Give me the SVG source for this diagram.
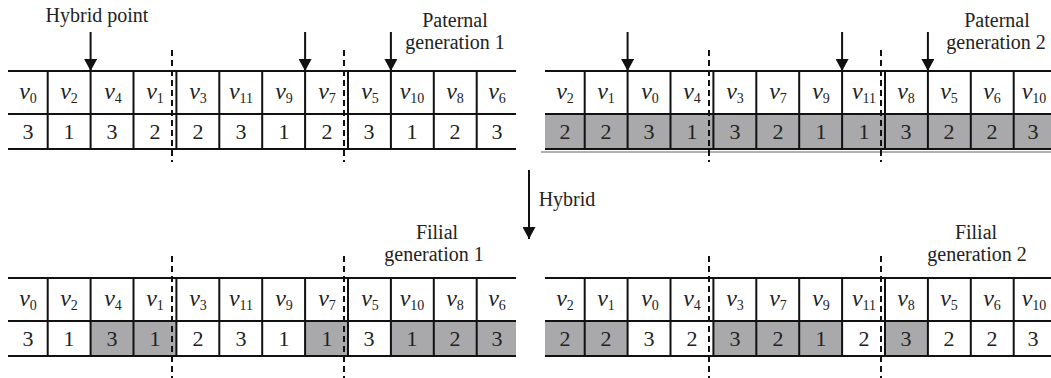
<svg xmlns="http://www.w3.org/2000/svg" width="1051" height="378" viewBox="0 0 1051 378">
<style>
.ln{stroke:#111;stroke-width:2;fill:none}
.ds{stroke:#111;stroke-width:2;stroke-dasharray:6 4;fill:none}
.g{fill:#a9a9ab}
.v{font-family:"Liberation Serif",serif;font-style:italic;font-size:24px;fill:#222;text-anchor:middle}
.s{font-style:normal;font-size:14px}
.d{font-family:"Liberation Serif",serif;font-size:22px;fill:#222;text-anchor:middle}
.t{font-family:"Liberation Serif",serif;font-size:20px;fill:#222;text-anchor:middle}
.ar{stroke:#111;stroke-width:2;fill:none;marker-end:url(#ah)}
</style>
<defs>
<marker id="ah" markerUnits="userSpaceOnUse" markerWidth="13" markerHeight="13" refX="12" refY="6.5" orient="auto">
<path d="M0,0 L12,6.5 L0,13 Z" fill="#111"/>
</marker>
</defs>
<rect width="1051" height="378" fill="#fff"/>

<!-- Top-left table: Paternal generation 1 -->
<g id="paternal1">
<path class="ln" d="M8,71H516M8,114H516M8,149H516"/>
<path class="ln" d="M47.7,71V149M90.6,71V149M133.5,71V149M176.4,71V149M219.3,71V149M262.2,71V149M305.1,71V149M348,71V149M390.9,71V149M433.8,71V149M476.7,71V149"/>
<text class="v" x="28" y="99">v<tspan class="s" dy="4">0</tspan></text>
<text class="v" x="69" y="99">v<tspan class="s" dy="4">2</tspan></text>
<text class="v" x="113" y="99">v<tspan class="s" dy="4">4</tspan></text>
<text class="v" x="155" y="99">v<tspan class="s" dy="4">1</tspan></text>
<text class="v" x="198" y="99">v<tspan class="s" dy="4">3</tspan></text>
<text class="v" x="241" y="99">v<tspan class="s" dy="4">11</tspan></text>
<text class="v" x="284" y="99">v<tspan class="s" dy="4">9</tspan></text>
<text class="v" x="327" y="99">v<tspan class="s" dy="4">7</tspan></text>
<text class="v" x="370" y="99">v<tspan class="s" dy="4">5</tspan></text>
<text class="v" x="412" y="99">v<tspan class="s" dy="4">10</tspan></text>
<text class="v" x="455" y="99">v<tspan class="s" dy="4">8</tspan></text>
<text class="v" x="497" y="99">v<tspan class="s" dy="4">6</tspan></text>
<text class="d" x="28" y="139">3</text>
<text class="d" x="69" y="139">1</text>
<text class="d" x="112" y="139">3</text>
<text class="d" x="155" y="139">2</text>
<text class="d" x="198" y="139">2</text>
<text class="d" x="241" y="139">3</text>
<text class="d" x="284" y="139">1</text>
<text class="d" x="327" y="139">2</text>
<text class="d" x="369" y="139">3</text>
<text class="d" x="412" y="139">1</text>
<text class="d" x="455" y="139">2</text>
<text class="d" x="497" y="139">3</text>
</g>

<!-- Top-right table: Paternal generation 2 -->
<g id="paternal2">
<rect class="g" x="545" y="114" width="506" height="35"/>
<path d="M541,152H1051" stroke="#b0b0b0" stroke-width="2"/>
<path class="ln" d="M545,71H1051M545,114H1051M545,149H1051"/>
<path class="ln" d="M584.7,71V149M627.6,71V149M670.5,71V149M713.4,71V149M756.3,71V149M799.2,71V149M842.1,71V149M885,71V149M927.9,71V149M970.8,71V149M1013.7,71V149"/>
<text class="v" x="565" y="99">v<tspan class="s" dy="4">2</tspan></text>
<text class="v" x="606" y="99">v<tspan class="s" dy="4">1</tspan></text>
<text class="v" x="650" y="99">v<tspan class="s" dy="4">0</tspan></text>
<text class="v" x="692" y="99">v<tspan class="s" dy="4">4</tspan></text>
<text class="v" x="735" y="99">v<tspan class="s" dy="4">3</tspan></text>
<text class="v" x="778" y="99">v<tspan class="s" dy="4">7</tspan></text>
<text class="v" x="821" y="99">v<tspan class="s" dy="4">9</tspan></text>
<text class="v" x="864" y="99">v<tspan class="s" dy="4">11</tspan></text>
<text class="v" x="906" y="99">v<tspan class="s" dy="4">8</tspan></text>
<text class="v" x="949" y="99">v<tspan class="s" dy="4">5</tspan></text>
<text class="v" x="992" y="99">v<tspan class="s" dy="4">6</tspan></text>
<text class="v" x="1034" y="99">v<tspan class="s" dy="4">10</tspan></text>
<text class="d" x="565" y="139">2</text>
<text class="d" x="606" y="139">2</text>
<text class="d" x="649" y="139">3</text>
<text class="d" x="692" y="139">1</text>
<text class="d" x="735" y="139">3</text>
<text class="d" x="778" y="139">2</text>
<text class="d" x="821" y="139">1</text>
<text class="d" x="864" y="139">1</text>
<text class="d" x="906" y="139">3</text>
<text class="d" x="949" y="139">2</text>
<text class="d" x="992" y="139">2</text>
<text class="d" x="1033" y="139">3</text>
</g>

<!-- Bottom-left table: Filial generation 1 -->
<g id="filial1">
<rect class="g" x="90.6" y="321" width="85.8" height="35"/>
<rect class="g" x="305.1" y="321" width="42.9" height="35"/>
<rect class="g" x="390.9" y="321" width="125.1" height="35"/>
<path class="ln" d="M8,278H516M8,321H516M8,356H516"/>
<path class="ln" d="M47.7,278V356M90.6,278V356M133.5,278V356M176.4,278V356M219.3,278V356M262.2,278V356M305.1,278V356M348,278V356M390.9,278V356M433.8,278V356M476.7,278V356"/>
<text class="v" x="28" y="306">v<tspan class="s" dy="4">0</tspan></text>
<text class="v" x="69" y="306">v<tspan class="s" dy="4">2</tspan></text>
<text class="v" x="113" y="306">v<tspan class="s" dy="4">4</tspan></text>
<text class="v" x="155" y="306">v<tspan class="s" dy="4">1</tspan></text>
<text class="v" x="198" y="306">v<tspan class="s" dy="4">3</tspan></text>
<text class="v" x="241" y="306">v<tspan class="s" dy="4">11</tspan></text>
<text class="v" x="284" y="306">v<tspan class="s" dy="4">9</tspan></text>
<text class="v" x="327" y="306">v<tspan class="s" dy="4">7</tspan></text>
<text class="v" x="370" y="306">v<tspan class="s" dy="4">5</tspan></text>
<text class="v" x="412" y="306">v<tspan class="s" dy="4">10</tspan></text>
<text class="v" x="455" y="306">v<tspan class="s" dy="4">8</tspan></text>
<text class="v" x="497" y="306">v<tspan class="s" dy="4">6</tspan></text>
<text class="d" x="28" y="346">3</text>
<text class="d" x="69" y="346">1</text>
<text class="d" x="112" y="346">3</text>
<text class="d" x="155" y="346">1</text>
<text class="d" x="198" y="346">2</text>
<text class="d" x="241" y="346">3</text>
<text class="d" x="284" y="346">1</text>
<text class="d" x="327" y="346">1</text>
<text class="d" x="369" y="346">3</text>
<text class="d" x="412" y="346">1</text>
<text class="d" x="455" y="346">2</text>
<text class="d" x="497" y="346">3</text>
</g>

<!-- Bottom-right table: Filial generation 2 -->
<g id="filial2">
<rect class="g" x="545" y="321" width="82.6" height="35"/>
<rect class="g" x="713.4" y="321" width="128.7" height="35"/>
<rect class="g" x="885" y="321" width="42.9" height="35"/>
<path class="ln" d="M545,278H1051M545,321H1051M545,356H1051"/>
<path class="ln" d="M584.7,278V356M627.6,278V356M670.5,278V356M713.4,278V356M756.3,278V356M799.2,278V356M842.1,278V356M885,278V356M927.9,278V356M970.8,278V356M1013.7,278V356"/>
<text class="v" x="565" y="306">v<tspan class="s" dy="4">2</tspan></text>
<text class="v" x="606" y="306">v<tspan class="s" dy="4">1</tspan></text>
<text class="v" x="650" y="306">v<tspan class="s" dy="4">0</tspan></text>
<text class="v" x="692" y="306">v<tspan class="s" dy="4">4</tspan></text>
<text class="v" x="735" y="306">v<tspan class="s" dy="4">3</tspan></text>
<text class="v" x="778" y="306">v<tspan class="s" dy="4">7</tspan></text>
<text class="v" x="821" y="306">v<tspan class="s" dy="4">9</tspan></text>
<text class="v" x="864" y="306">v<tspan class="s" dy="4">11</tspan></text>
<text class="v" x="906" y="306">v<tspan class="s" dy="4">8</tspan></text>
<text class="v" x="949" y="306">v<tspan class="s" dy="4">5</tspan></text>
<text class="v" x="992" y="306">v<tspan class="s" dy="4">6</tspan></text>
<text class="v" x="1034" y="306">v<tspan class="s" dy="4">10</tspan></text>
<text class="d" x="565" y="346">2</text>
<text class="d" x="606" y="346">2</text>
<text class="d" x="649" y="346">3</text>
<text class="d" x="692" y="346">2</text>
<text class="d" x="735" y="346">3</text>
<text class="d" x="778" y="346">2</text>
<text class="d" x="821" y="346">1</text>
<text class="d" x="864" y="346">2</text>
<text class="d" x="906" y="346">3</text>
<text class="d" x="949" y="346">2</text>
<text class="d" x="992" y="346">2</text>
<text class="d" x="1033" y="346">3</text>
</g>

<!-- Labels -->
<g id="labels">
<text class="t" x="97" y="22">Hybrid point</text>
<text class="t" x="455" y="27">Paternal</text>
<text class="t" x="455" y="49">generation 1</text>
<text class="t" x="997" y="27">Paternal</text>
<text class="t" x="996" y="49">generation 2</text>
<text class="t" x="567" y="206">Hybrid</text>
<text class="t" x="437" y="239">Filial</text>
<text class="t" x="434" y="261">generation 1</text>
<text class="t" x="976" y="239">Filial</text>
<text class="t" x="977" y="261">generation 2</text>
</g>

<!-- Connectors: arrows and dashed cut lines -->
<g id="connectors">
<path class="ar" d="M90.6,32V71"/>
<path class="ar" d="M305.1,32V71"/>
<path class="ar" d="M390.9,32V71"/>
<path class="ar" d="M627.6,32V71"/>
<path class="ar" d="M842.1,32V71"/>
<path class="ar" d="M927.9,32V71"/>
<path class="ar" d="M529,170V239"/>
<path class="ds" d="M172,50V162M344,50V162M709,50V162M881,50V162"/>
<path class="ds" d="M172,256V378M344,256V378M709,256V378M881,256V378"/>
</g>
</svg>
